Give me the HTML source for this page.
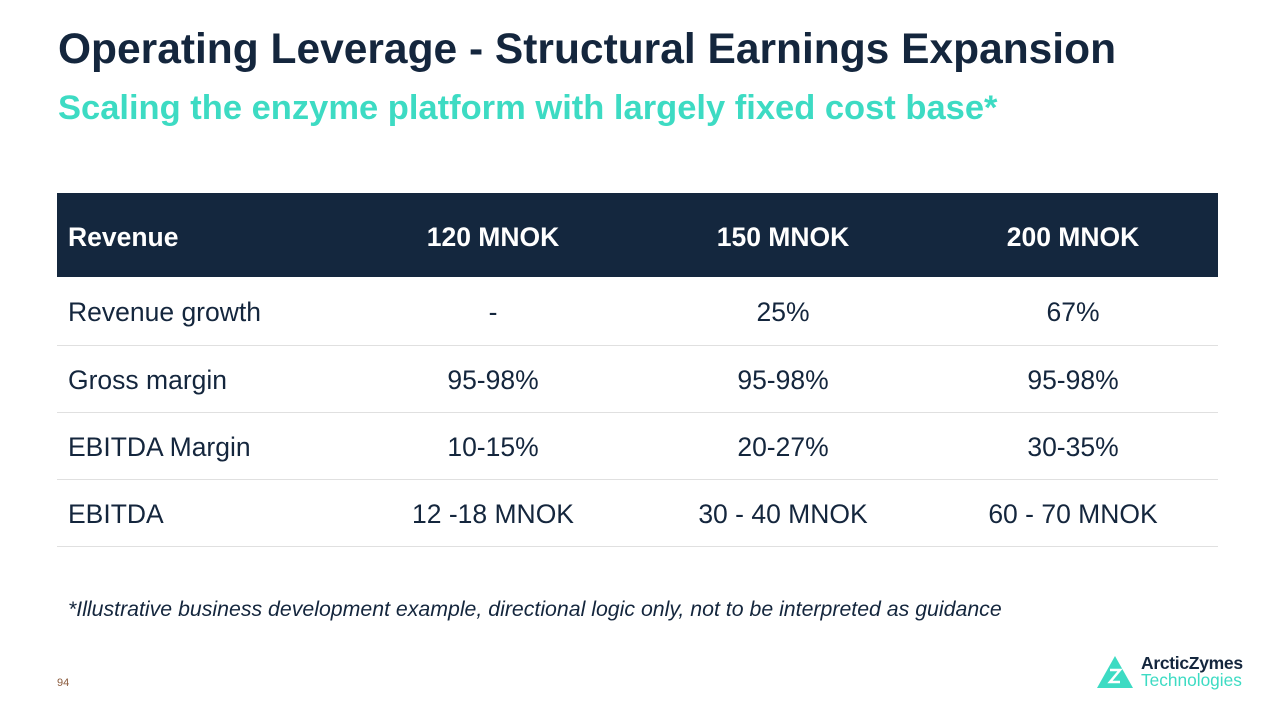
<!DOCTYPE html>
<html><head><style>
body{margin:0;width:1277px;height:711px;background:#fff;position:relative;font-family:"Liberation Sans",Arial,sans-serif;overflow:hidden}
.a{position:absolute;white-space:nowrap}
h1{position:absolute;left:58px;top:26px;margin:0;font-size:42.5px;font-weight:bold;color:#14263d;white-space:nowrap}
h2{position:absolute;left:58px;top:89px;margin:0;font-size:34.5px;font-weight:bold;color:#3ddbc3;white-space:nowrap}
.hd{position:absolute;left:57px;top:193px;width:1161px;height:84px;background:#14273e}
.c{position:absolute;width:290px;text-align:center;font-size:26.5px;color:#14263d;white-space:nowrap}
.l{position:absolute;left:68px;font-size:26.5px;color:#14263d;white-space:nowrap}
.line{position:absolute;left:57px;width:1161px;height:1px;background:#e0e0e0}
.w{color:#fff;font-weight:bold;font-size:26.5px}
</style></head><body>
<h1>Operating Leverage - Structural Earnings Expansion</h1>
<h2>Scaling the enzyme platform with largely fixed cost base*</h2>
<div class="hd"></div>
<div class="l w" style="top:222px">Revenue</div>
<div class="c w" style="left:348px;top:222px">120 MNOK</div>
<div class="c w" style="left:638px;top:222px">150 MNOK</div>
<div class="c w" style="left:928px;top:222px">200 MNOK</div>

<div class="l" style="top:297px">Revenue growth</div>
<div class="c" style="left:348px;top:297px">-</div>
<div class="c" style="left:638px;top:297px">25%</div>
<div class="c" style="left:928px;top:297px">67%</div>
<div class="line" style="top:345px"></div>

<div class="l" style="top:365px">Gross margin</div>
<div class="c" style="left:348px;top:365px">95-98%</div>
<div class="c" style="left:638px;top:365px">95-98%</div>
<div class="c" style="left:928px;top:365px">95-98%</div>
<div class="line" style="top:412px"></div>

<div class="l" style="top:432px">EBITDA Margin</div>
<div class="c" style="left:348px;top:432px">10-15%</div>
<div class="c" style="left:638px;top:432px">20-27%</div>
<div class="c" style="left:928px;top:432px">30-35%</div>
<div class="line" style="top:479px"></div>

<div class="l" style="top:499px">EBITDA</div>
<div class="c" style="left:348px;top:499px">12 -18 MNOK</div>
<div class="c" style="left:638px;top:499px">30 - 40 MNOK</div>
<div class="c" style="left:928px;top:499px">60 - 70 MNOK</div>
<div class="line" style="top:546px"></div>

<div class="a" style="left:68px;top:597px;font-size:21.3px;font-style:italic;color:#14263d">*Illustrative business development example, directional logic only, not to be interpreted as guidance</div>
<div class="a" style="left:57px;top:677px;font-size:11px;color:#8a5a3c">94</div>
<svg class="a" style="left:1095px;top:654px" width="40" height="36" viewBox="0 0 40 36"><path d="M20 2 L38 34 L2 34 Z" fill="#3ddbc3"/><path d="M15 16h10l-10 12h10" stroke="#fff" stroke-width="2.5" fill="none"/></svg>
<div class="a" style="left:1141px;top:653px;font-size:17.5px;font-weight:bold;color:#14263d;letter-spacing:-0.3px">ArcticZymes</div>
<div class="a" style="left:1141px;top:670px;font-size:17.3px;color:#3ddbc3">Technologies</div>
</body></html>
